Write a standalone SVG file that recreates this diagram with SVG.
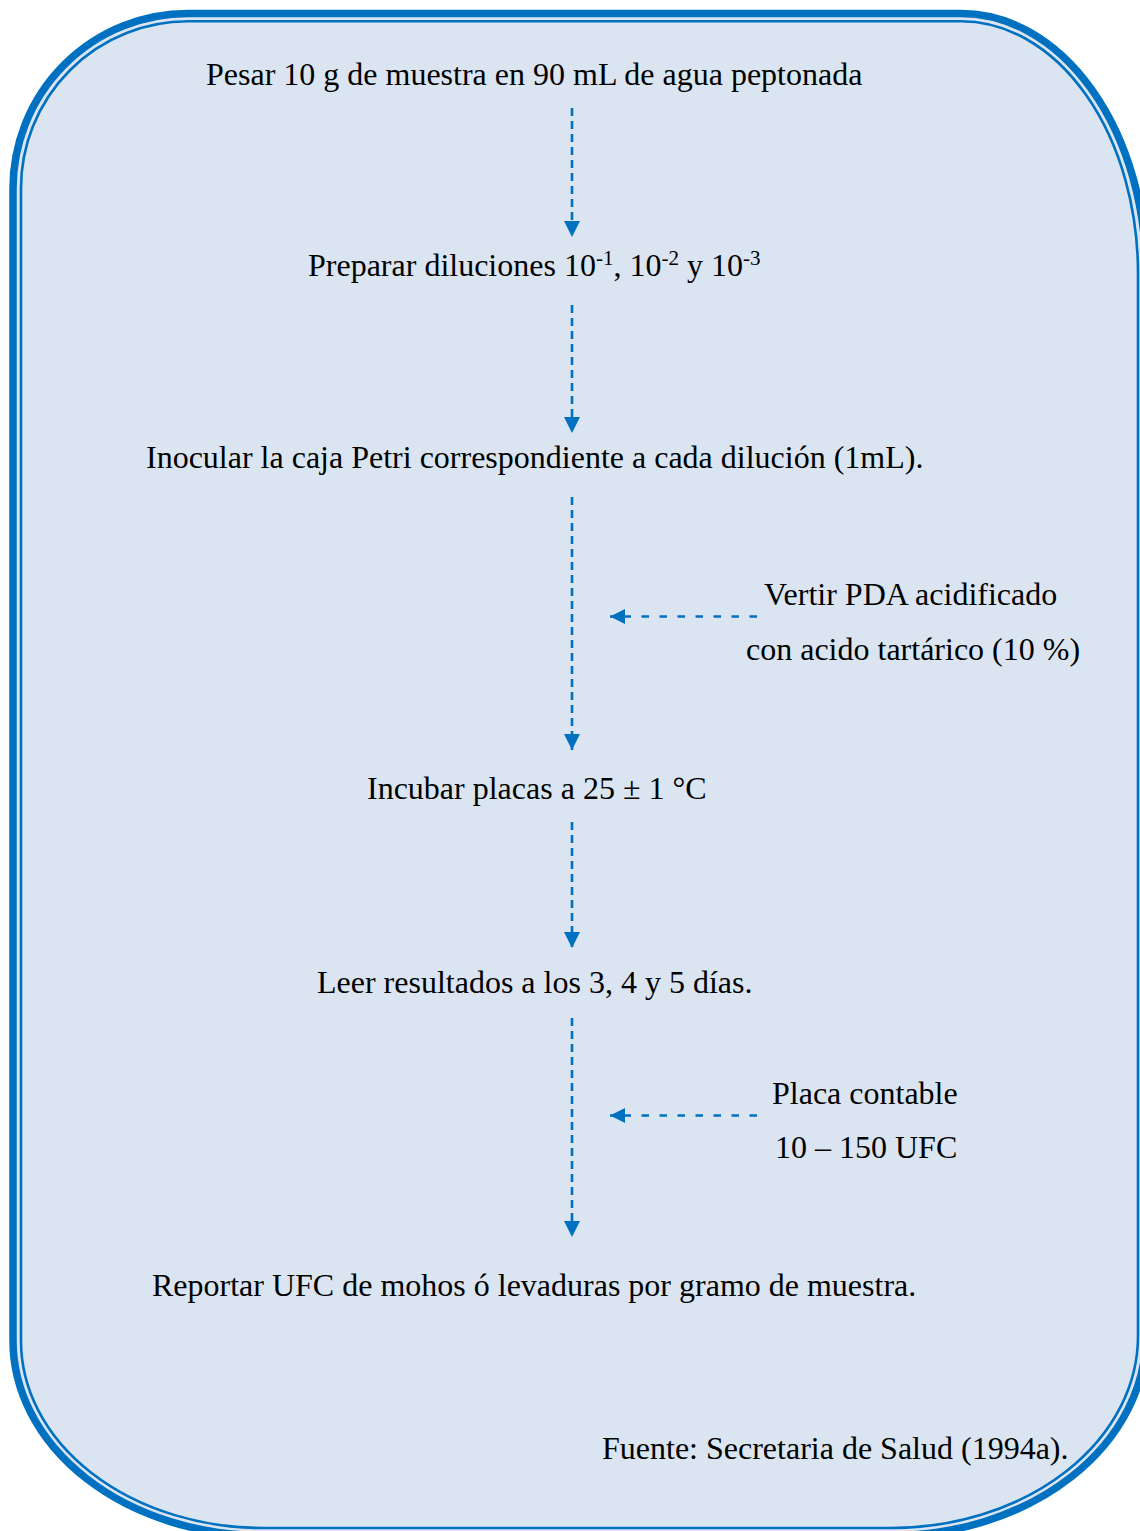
<svg xmlns="http://www.w3.org/2000/svg" width="1140" height="1531" viewBox="0 0 1140 1531">
  <style>
    .t { font-family: "Liberation Serif", "Times New Roman", serif; font-size: 32px; fill: #000; }
    .sup { font-size: 21px; }
    .flow { stroke: #0070C0; stroke-width: 2.6; fill: none; }
    .v { stroke-dasharray: 8 5; marker-end: url(#headDown); }
    .h { stroke-dasharray: 7.5 10.5; marker-end: url(#headLeft); }
    .frame { stroke: #0070C0; }
  </style>
  <defs>
    <marker id="headDown" viewBox="0 0 16 16" refX="16" refY="8" markerWidth="16" markerHeight="16" markerUnits="userSpaceOnUse" orient="auto">
      <path d="M0,0 L16,8 L0,16 Z" fill="#0070C0"/>
    </marker>
    <marker id="headLeft" viewBox="0 0 15 15" refX="15" refY="7.5" markerWidth="15" markerHeight="15" markerUnits="userSpaceOnUse" orient="auto">
      <path d="M0,0 L15,7.5 L0,15 Z" fill="#0070C0"/>
    </marker>
  </defs>

  <!-- panel: rounded frame with a thick-thin double border -->
  <g id="panel">
    <path class="frame" fill="#DBE5F1" stroke-width="7.5"
          d="M188,13.5 H961 A185,260 0 0 1 1146,273.5 V1335.5 A255,200 0 0 1 891,1535.5 H263 A250,195 0 0 1 13,1340.5 V188.5 A175,175 0 0 1 188,13.5 Z"/>
    <path class="frame" fill="none" stroke-width="2.6"
          d="M188,21.3 H961 A177,252 0 0 1 1138,273.3 V1336 A247,192 0 0 1 891,1528 H263 A242,187 0 0 1 21,1341 V188.3 A167,167 0 0 1 188,21.3 Z"/>
  </g>

  <!-- connectors -->
  <g id="connectors" class="flow">
    <path class="v" d="M572,108 V237"/>
    <path class="v" d="M572,305 V433"/>
    <path class="v" d="M572,497 V750"/>
    <path class="v" d="M572,822 V948"/>
    <path class="v" d="M572,1018 V1237"/>
    <path class="h" d="M757,616.5 H610"/>
    <path class="h" d="M757,1115.5 H610"/>
  </g>

  <!-- steps -->
  <g id="step-pesar">
    <text class="t" x="206" y="85">Pesar 10 g de muestra en 90 mL de agua peptonada</text>
  </g>
  <g id="step-diluciones">
    <text class="t" x="308" y="276">Preparar diluciones 10<tspan class="sup" dy="-11">-1</tspan><tspan dy="11">, 10</tspan><tspan class="sup" dy="-11">-2</tspan><tspan dy="11"> y 10</tspan><tspan class="sup" dy="-11">-3</tspan></text>
  </g>
  <g id="step-inocular">
    <text class="t" x="146" y="468">Inocular la caja Petri correspondiente a cada dilución (1mL).</text>
  </g>
  <g id="note-pda">
    <text class="t" x="764" y="605">Vertir PDA acidificado</text>
    <text class="t" x="746" y="660">con acido tartárico (10 %)</text>
  </g>
  <g id="step-incubar">
    <text class="t" x="367" y="799">Incubar placas a 25 ± 1 °C</text>
  </g>
  <g id="step-leer">
    <text class="t" x="317" y="993">Leer resultados a los 3, 4 y 5 días.</text>
  </g>
  <g id="note-placa">
    <text class="t" x="772" y="1104">Placa contable</text>
    <text class="t" x="775" y="1158">10 – 150 UFC</text>
  </g>
  <g id="step-reportar">
    <text class="t" x="152" y="1296">Reportar UFC de mohos ó levaduras por gramo de muestra.</text>
  </g>
  <g id="source">
    <text class="t" x="602" y="1459">Fuente: Secretaria de Salud (1994a).</text>
  </g>
</svg>
